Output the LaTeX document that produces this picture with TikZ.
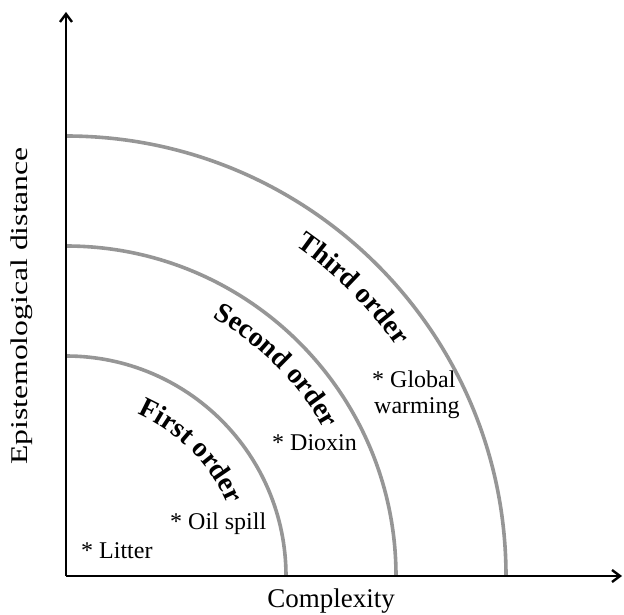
\documentclass[tikz,border=0pt]{standalone}
\usepackage{fontspec}
\setmainfont{Liberation Serif}
\usetikzlibrary{arrows.meta,decorations.text}
\definecolor{ringgray}{RGB}{150,150,150}
\begin{document}
\begin{tikzpicture}[x=1pt,y=1pt,
  ring/.style={draw=ringgray, line width=3.6pt},
  axisline/.style={line width=2.4pt, -{Straight Barb[length=8pt,width=12pt]}},
  lbl/.style={font=\fontsize{24}{27}\selectfont, inner sep=0pt},
  example/.style={lbl, anchor=base west, align=left}]
\useasboundingbox (0,0) rectangle (624,614);

% origin and axis ends
\coordinate (O) at (66,38);
\coordinate (ytip) at (66,602);
\coordinate (xtip) at (622,38);

% the three order rings
\draw[ring] ([yshift=220pt]O) arc[start angle=90, end angle=0, radius=220];
\draw[ring] ([yshift=330pt]O) arc[start angle=90, end angle=0, radius=330];
\draw[ring] ([yshift=440pt]O) arc[start angle=90, end angle=0, radius=440];

% axes
\draw[axisline] (O) -- (ytip);
\draw[axisline] (O) -- (xtip);

% axis titles
\node[lbl, rotate=90] (ylab) at (22,308) {\scalebox{1.32}[1]{Epistemological distance}};
\node[lbl, anchor=base, font=\fontsize{27}{27}\selectfont] (xlab) at (331,7) {Complexity};

% curved ring names
\path[decorate, decoration={text along path, text align=center,
  text={|\fontsize{28}{28}\selectfont\bfseries|First order}}]
  ([yshift=177pt]O) arc[start angle=90, end angle=0, radius=177];
\path[decorate, decoration={text along path, text align=center,
  text={|\fontsize{28}{28}\selectfont\bfseries|Second order}}]
  ([yshift=297pt]O) arc[start angle=90, end angle=0, radius=297];
\path[decorate, decoration={text along path, text align=center,
  text={|\fontsize{28}{28}\selectfont\bfseries|Third order}}]
  ([yshift=402pt]O) arc[start angle=90, end angle=0, radius=402];

% examples
\node[example] (litter) at (81,56) {* Litter};
\node[example] (oil) at (170,85) {* Oil spill};
\node[example] (dioxin) at (272,164) {* Dioxin};
\node[example] (global) at (372,226) {* Global};
\node[example] (warming) at (374,201) {warming};
\end{tikzpicture}
\end{document}
